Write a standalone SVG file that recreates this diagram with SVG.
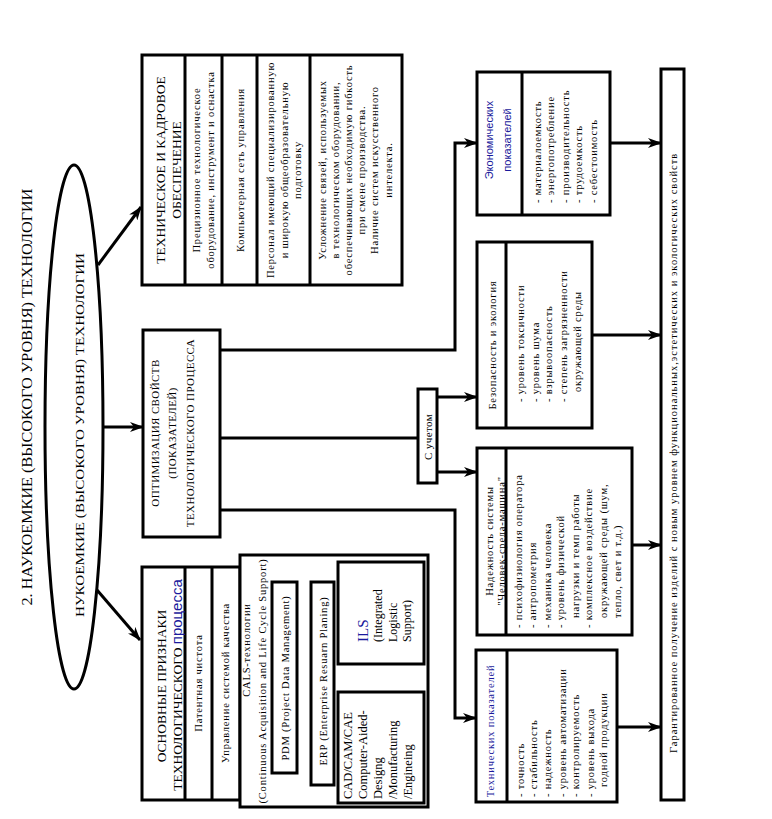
<svg xmlns="http://www.w3.org/2000/svg" width="772" height="819" viewBox="0 0 772 819">
<style>
.b{fill:#fff;stroke:#000;stroke-width:3}
.d{stroke:#000;stroke-width:3;fill:none}
.c{fill:none;stroke:#000;stroke-width:3}
text{font-family:"Liberation Serif","Times New Roman",serif;fill:#000}
.m{text-anchor:middle}
.h{font-size:13.5px}
.f{font-size:10.5px;letter-spacing:0.8px}
.s{font-size:11px;letter-spacing:0.4px}
.bl{fill:#1a1a9c}
.sans{font-family:"Liberation Sans",Arial,sans-serif}
</style>
<defs>
<marker id="ar" viewBox="0 0 14 10" refX="13" refY="5" markerWidth="14" markerHeight="10" markerUnits="userSpaceOnUse" orient="auto"><path d="M0,0 L14,5 L0,10 L4,5 Z" fill="#000"/></marker>
</defs>
<rect width="772" height="819" fill="#fff"/>

<g id="title">
<text class="m" font-size="14" transform="translate(32,397) rotate(-90)" textLength="417" lengthAdjust="spacingAndGlyphs">2. НАУКОЕМКИЕ (ВЫСОКОГО УРОВНЯ) ТЕХНОЛОГИИ</text>
</g>

<g id="ellipse">
<ellipse cx="74" cy="427" rx="29" ry="262" class="b"/>
<text class="m" font-size="12" transform="translate(84,435) rotate(-90)" textLength="364" lengthAdjust="spacingAndGlyphs">НУКОЕМКИЕ (ВЫСОКОГО УРОВНЯ) ТЕХНОЛОГИИ</text>
</g>

<g id="tech">
<rect x="142" y="55" width="260" height="230" class="b"/>
<path class="d" d="M185,55V285M222,55V285M257,55V285M310,55V285"/>
<text class="m h" transform="translate(165,170) rotate(-90)">ТЕХНИЧЕСКОЕ И КАДРОВОЕ</text>
<text class="m h" transform="translate(181,170) rotate(-90)">ОБЕСПЕЧЕНИЕ</text>
<text class="m f" transform="translate(200,170) rotate(-90)">Прецизионное технологическое</text>
<text class="m f" transform="translate(214,170) rotate(-90)">оборудование, инструмент и оснастка</text>
<text class="m f" transform="translate(244,170) rotate(-90)">Компьютерная сеть управления</text>
<text class="m f" transform="translate(274,170) rotate(-90)">Персонал имеющий специализированную</text>
<text class="m f" transform="translate(288,170) rotate(-90)">и широкую общеобразовательную</text>
<text class="m f" transform="translate(301,170) rotate(-90)">подготовку</text>
<text class="m f" transform="translate(326,170) rotate(-90)">Усложнение связей, используемых</text>
<text class="m f" transform="translate(339,170) rotate(-90)">в технологическом оборудовании,</text>
<text class="m f" transform="translate(352,170) rotate(-90)">обеспечивающих необходимую гибкость</text>
<text class="m f" transform="translate(365,170) rotate(-90)">при смене производства.</text>
<text class="m f" transform="translate(378,170) rotate(-90)">Наличие систем искусственного</text>
<text class="m f" transform="translate(392,170) rotate(-90)">интелекта.</text>
</g>

<g id="optim">
<rect x="143" y="330" width="77" height="207" class="b"/>
<text class="m s" transform="translate(159,433) rotate(-90)">ОПТИМИЗАЦИЯ СВОЙСТВ</text>
<text class="m s" transform="translate(176,433) rotate(-90)">(ПОКАЗАТЕЛЕЙ)</text>
<text class="m s" transform="translate(194,433) rotate(-90)">ТЕХНОЛОГИЧЕСКОГО ПРОЦЕССА</text>
</g>

<g id="uchet">
<rect x="418" y="389" width="19" height="94" class="b"/>
<text class="m s" transform="translate(432,437) rotate(-90)">С учетом</text>
</g>

<g id="osnov">
<rect x="142" y="567" width="98" height="233" class="b"/>
<path class="d" d="M185,567V800M212,567V800"/>
<text class="m h" transform="translate(166,686) rotate(-90)">ОСНОВНЫЕ ПРИЗНАКИ</text>
<text class="m h" transform="translate(182,685) rotate(-90)">ТЕХНОЛОГИЧЕСКОГО <tspan class="sans bl" font-size="15">процесса</tspan></text>
<text class="m f" transform="translate(202,683) rotate(-90)">Патентная чистота</text>
<text class="m f" transform="translate(229,683) rotate(-90)">Управление системой качества</text>
</g>

<g id="cals">
<rect x="240" y="555" width="188" height="252" class="b"/>
<text class="m f" transform="translate(250,650) rotate(-90)">CALS-технологии</text>
<text class="m f" transform="translate(266,681) rotate(-90)">(Continuous Acquisition and Life Cycle Support)</text>
</g>

<g id="pdm">
<rect x="272" y="582" width="25" height="191" class="b"/>
<text class="m f" transform="translate(289,678) rotate(-90)">PDM (Project Data Management)</text>
</g>

<g id="erp">
<rect x="311" y="582" width="23" height="203" class="b"/>
<text class="m f" transform="translate(327,681) rotate(-90)">ERP (Enterprise Resuarn Planing)</text>
</g>

<g id="ils">
<rect x="338" y="562" width="86" height="102" class="b"/>
<text font-size="15" class="bl" transform="translate(368,642) rotate(-90)">ILS</text>
<text font-size="12" transform="translate(382,642) rotate(-90)">(Integrated</text>
<text font-size="12" transform="translate(397,642) rotate(-90)">Logistic</text>
<text font-size="12" transform="translate(411,642) rotate(-90)">Support)</text>
</g>

<g id="cad">
<rect x="338" y="692" width="86" height="111" class="b"/>
<text font-size="12.5" transform="translate(352,799) rotate(-90)">CAD/CAM/CAE</text>
<text font-size="12.5" transform="translate(367,799) rotate(-90)">Computer-Aided-</text>
<text font-size="12.5" transform="translate(382,799) rotate(-90)">Designg</text>
<text font-size="12.5" transform="translate(397,799) rotate(-90)">/Monufacturing</text>
<text font-size="12.5" transform="translate(412,799) rotate(-90)">/Engineing</text>
</g>

<g id="econ">
<rect x="477" y="72" width="133" height="143" class="b"/>
<path class="d" d="M522,72V215"/>
<text class="m sans bl" font-size="11" transform="translate(493,140) rotate(-90)">Экономических</text>
<text class="m sans bl" font-size="11" transform="translate(511,140) rotate(-90)">показателей</text>
<text class="f" transform="translate(541,203) rotate(-90)">- материалоемкость</text>
<text class="f" transform="translate(554,203) rotate(-90)">- энергопотребление</text>
<text class="f" transform="translate(569,203) rotate(-90)">- производительность</text>
<text class="f" transform="translate(582,203) rotate(-90)">- трудоемкость</text>
<text class="f" transform="translate(597,203) rotate(-90)">- себестоимость</text>
</g>

<g id="bezop">
<rect x="477" y="242" width="115" height="186" class="b"/>
<path class="d" d="M506,242V428"/>
<text class="m f" transform="translate(496,345) rotate(-90)">Безопасность и экология</text>
<text class="f" transform="translate(524,402) rotate(-90)">- уровень токсичности</text>
<text class="f" transform="translate(539,402) rotate(-90)">- уровень шума</text>
<text class="f" transform="translate(552,402) rotate(-90)">- взрывоопасность</text>
<text class="f" transform="translate(567,402) rotate(-90)">- степень загрязненности</text>
<text class="f" transform="translate(581,392) rotate(-90)">окружающей среды</text>
</g>

<g id="nadezh">
<rect x="477" y="448" width="155" height="187" class="b"/>
<path class="d" d="M506,448V635"/>
<text class="m f" transform="translate(493,541) rotate(-90)">Надежность системы</text>
<text class="m f" transform="translate(505,541) rotate(-90)">"Человек-среда-машина"</text>
<text class="f" transform="translate(522,628) rotate(-90)">- психофизиология оператора</text>
<text class="f" transform="translate(536,628) rotate(-90)">- антропометрия</text>
<text class="f" transform="translate(551,628) rotate(-90)">- механика человека</text>
<text class="f" transform="translate(564,628) rotate(-90)">- уровень физической</text>
<text class="f" transform="translate(579,618) rotate(-90)">нагрузки и темп работы</text>
<text class="f" transform="translate(592,628) rotate(-90)">- комплексное воздействие</text>
<text class="f" transform="translate(607,618) rotate(-90)">окружающей среды (шум,</text>
<text class="f" transform="translate(621,618) rotate(-90)">тепло, свет и т.д.)</text>
</g>

<g id="techpok">
<rect x="476" y="650" width="141" height="152" class="b"/>
<path class="d" d="M507,650V802"/>
<text class="m f bl" transform="translate(494,731) rotate(-90)">Технических показателей</text>
<text class="f" transform="translate(524,797) rotate(-90)">- точность</text>
<text class="f" transform="translate(537,797) rotate(-90)">- стабильность</text>
<text class="f" transform="translate(551,797) rotate(-90)">- надежность</text>
<text class="f" transform="translate(566,797) rotate(-90)">- уровень автоматизации</text>
<text class="f" transform="translate(579,797) rotate(-90)">- контролируемость</text>
<text class="f" transform="translate(594,797) rotate(-90)">- уровень выхода</text>
<text class="f" transform="translate(607,787) rotate(-90)">годной продукции</text>
</g>

<g id="result">
<rect x="661" y="69" width="23" height="731" class="b"/>
<text class="m f" transform="translate(677,453) rotate(-90)" textLength="600" lengthAdjust="spacing">Гарантированное получение изделий с новым уровнем функциональных,эстетических и экологических свойств</text>
</g>

<g id="connectors" class="c">
<path d="M98,265 L141,207" marker-end="url(#ar)"/>
<path d="M103,427 L143,427" marker-end="url(#ar)"/>
<path d="M97,590 L140,640" marker-end="url(#ar)"/>
<path d="M220,350 H455 V143 H477" marker-end="url(#ar)"/>
<path d="M220,438 H418"/>
<path d="M220,510 H455 V718 H476" marker-end="url(#ar)"/>
<path d="M437,397 H477" marker-end="url(#ar)"/>
<path d="M437,472 H477" marker-end="url(#ar)"/>
<path d="M610,143 H661" marker-end="url(#ar)"/>
<path d="M592,335 H661" marker-end="url(#ar)"/>
<path d="M632,545 H661" marker-end="url(#ar)"/>
<path d="M617,727 H661" marker-end="url(#ar)"/>
</g>
</svg>
